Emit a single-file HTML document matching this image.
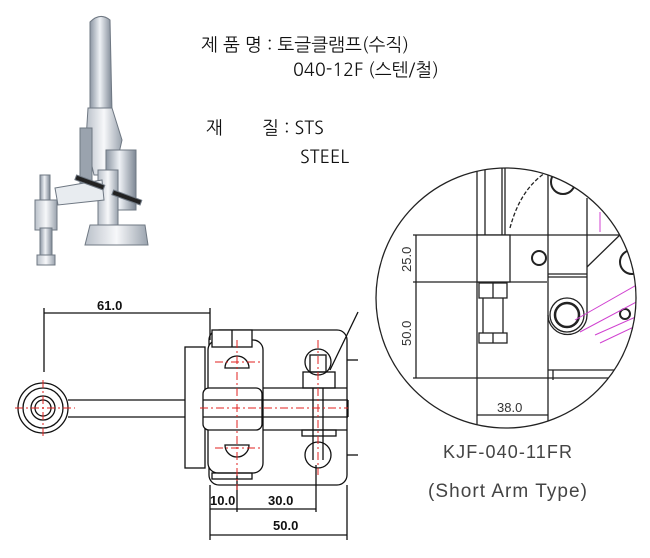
<!DOCTYPE html>
<html><head><meta charset="utf-8"><style>
html,body{margin:0;padding:0;background:#fff;}
body{width:650px;height:558px;position:relative;overflow:hidden;font-family:"Liberation Sans","Noto Sans CJK KR",sans-serif;}
.t{position:absolute;font-size:18px;color:#111;white-space:pre;line-height:1;font-family:"NanumGothic","Liberation Sans","Noto Sans CJK KR",sans-serif;}
</style></head><body>
<svg width="650" height="558" style="position:absolute;left:0;top:0">
<defs>
<linearGradient id="m" x1="0" x2="1"><stop offset="0" stop-color="#8c96a3"/><stop offset=".45" stop-color="#eef1f5"/><stop offset="1" stop-color="#7d8794"/></linearGradient>
<linearGradient id="m2" x1="0" x2="1"><stop offset="0" stop-color="#b9c0c9"/><stop offset=".5" stop-color="#f7f8fa"/><stop offset="1" stop-color="#9aa3ae"/></linearGradient>
<clipPath id="cc"><circle cx="506" cy="298" r="130"/></clipPath>
</defs>
<!-- photo -->
<g stroke="#6f7883" stroke-width="1">
<path d="M90 22 Q100 12 110 20 L112 112 L90 112 Z" fill="url(#m)"/>
<path d="M88 108 L112 108 L122 140 L114 175 L94 175 L86 140 Z" fill="url(#m2)"/>
<rect x="80" y="128" width="12" height="60" fill="#9aa3ae"/>
<rect x="106" y="150" width="30" height="60" fill="url(#m)"/>
<rect x="98" y="170" width="20" height="70" fill="url(#m2)"/>
<path d="M90 225 L145 225 L148 245 L85 245 Z" fill="url(#m2)"/>
<path d="M55 188 L102 180 L104 200 L58 205 Z" fill="#e8ecf0"/>
<rect x="40" y="175" width="10" height="30" fill="url(#m)"/>
<rect x="35" y="200" width="22" height="30" fill="url(#m2)"/>
<rect x="40" y="228" width="12" height="30" fill="url(#m)"/>
<rect x="37" y="255" width="18" height="10" fill="url(#m2)"/>
<rect x="112" y="195" width="30" height="5" fill="#222" transform="rotate(20 127 197)"/>
<rect x="75" y="180" width="30" height="5" fill="#222" transform="rotate(20 90 182)"/>
</g>
<!-- left drawing -->
<g fill="none" stroke="#111" stroke-width="1.3">
<line x1="44" y1="313" x2="210" y2="313"/>
<line x1="44" y1="308" x2="44" y2="372"/>
<line x1="210" y1="308" x2="210" y2="340"/>
<circle cx="43" cy="408" r="25"/><circle cx="43" cy="408" r="20"/><circle cx="43" cy="408" r="12"/><circle cx="43" cy="408" r="8"/>
<line x1="68" y1="400" x2="348" y2="400"/><line x1="68" y1="417" x2="348" y2="417"/><line x1="348" y1="400" x2="348" y2="417"/>
<rect x="185" y="347" width="20" height="121" fill="#fff"/>
<rect x="209" y="330" width="138" height="155" rx="10"/>
<rect x="208" y="340" width="55" height="133" rx="10" fill="#fff"/>
<rect x="212" y="330" width="40" height="17" fill="#fff"/>
<line x1="232" y1="330" x2="232" y2="347"/>
<rect x="203" y="388" width="59" height="42" rx="6" fill="#fff"/>
<line x1="203" y1="400" x2="262" y2="400"/><line x1="203" y1="417" x2="262" y2="417"/>
<line x1="263" y1="388" x2="347" y2="388"/><line x1="263" y1="430" x2="347" y2="430"/>
<path d="M225 368 A12 12 0 0 1 249 368 Z"/>
<path d="M225 445 A12 12 0 0 0 249 445 Z"/>
<rect x="212" y="473" width="40" height="6"/>
<circle cx="318" cy="362" r="13"/><circle cx="318" cy="455" r="13"/>
<rect x="310" y="355" width="16" height="17"/>
<rect x="303" y="372" width="32" height="16"/>
<rect x="302" y="430" width="34" height="6"/>
<line x1="313" y1="388" x2="313" y2="460"/><line x1="323" y1="388" x2="323" y2="460"/>
<line x1="330" y1="370" x2="358" y2="312"/>
<line x1="347" y1="360" x2="358" y2="360"/><line x1="347" y1="455" x2="358" y2="455"/>
<line x1="210" y1="485" x2="210" y2="540"/><line x1="347" y1="485" x2="347" y2="540"/>
<line x1="316" y1="465" x2="316" y2="512"/><line x1="237" y1="475" x2="237" y2="512"/>
<line x1="210" y1="509" x2="316" y2="509"/>
<line x1="210" y1="535" x2="347" y2="535"/>
</g>
<g stroke="#e0201f" stroke-width="1" stroke-dasharray="8 3 2 3" fill="none">
<line x1="15" y1="408" x2="75" y2="408"/><line x1="43" y1="380" x2="43" y2="438"/>
<line x1="200" y1="408" x2="348" y2="408"/>
<line x1="237" y1="340" x2="237" y2="490"/>
<line x1="318" y1="340" x2="318" y2="475"/>
<line x1="215" y1="362" x2="260" y2="362"/><line x1="215" y1="448" x2="260" y2="448"/>
</g>
<g font-family="Liberation Sans,sans-serif" font-weight="bold" font-size="13" fill="#111">
<text x="97" y="310">61.0</text>
<text x="210" y="505">10.0</text>
<text x="268" y="505">30.0</text>
<text x="273" y="530">50.0</text>
</g>
<!-- circle detail -->
<g clip-path="url(#cc)">
<g fill="none" stroke="#222" stroke-width="1.3">
<line x1="477" y1="160" x2="477" y2="235"/><line x1="485" y1="160" x2="485" y2="235"/>
<line x1="502" y1="160" x2="502" y2="235"/><line x1="505" y1="160" x2="505" y2="235"/>
<path d="M510 228 Q520 190 545 173" stroke-dasharray="4 2"/>
<line x1="413" y1="235" x2="640" y2="235"/>
<line x1="413" y1="282" x2="547" y2="282"/>
<line x1="413" y1="378" x2="640" y2="378"/>
<line x1="416" y1="235" x2="416" y2="378"/>
<rect x="477" y="235" width="33" height="47" fill="#fff"/>
<rect x="479" y="283" width="28" height="15"/><line x1="493" y1="283" x2="493" y2="298"/>
<line x1="483" y1="298" x2="483" y2="333"/><line x1="503" y1="298" x2="503" y2="333"/>
<rect x="479" y="333" width="28" height="10"/><line x1="493" y1="333" x2="493" y2="343"/>
<line x1="477" y1="282" x2="477" y2="430"/>
<line x1="548" y1="160" x2="548" y2="430"/>
<line x1="477" y1="415" x2="548" y2="415"/>
<line x1="587" y1="198" x2="587" y2="315"/>
<path d="M548 315 A19 19 0 0 0 587 315"/>
<line x1="548" y1="277" x2="587" y2="277"/><line x1="548" y1="274" x2="587" y2="274"/>
<circle cx="567" cy="315" r="12" stroke-width="2.5"/>
<circle cx="567" cy="315" r="17"/>
<circle cx="539" cy="258" r="7" stroke-width="2"/>
<circle cx="563" cy="182" r="12" stroke-width="2"/>
<circle cx="632" cy="262" r="12" stroke-width="2"/>
<circle cx="625" cy="314" r="5" stroke-width="2"/>
<line x1="587" y1="267" x2="625" y2="230"/>
<line x1="548" y1="370" x2="640" y2="370"/>
<line x1="553" y1="370" x2="553" y2="380"/>
</g>
<g stroke="#d040d0" stroke-width="1" fill="none">
<line x1="575" y1="320" x2="640" y2="283"/><line x1="580" y1="332" x2="640" y2="300"/>
<line x1="595" y1="335" x2="640" y2="315"/><line x1="600" y1="343" x2="640" y2="324"/>
<line x1="600" y1="212" x2="600" y2="232"/>
</g>
</g>
<circle cx="506" cy="298" r="130" fill="none" stroke="#222" stroke-width="1.3"/>
<g font-family="Liberation Sans,sans-serif" font-size="13" fill="#333">
<text transform="translate(411 272) rotate(-90)">25.0</text>
<text transform="translate(411 346) rotate(-90)">50.0</text>
<text x="497" y="412">38.0</text>
</g>
<text x="443" y="458" font-family="Liberation Sans,sans-serif" font-size="18" fill="#444" textLength="129">KJF-040-11FR</text>
<text x="428" y="497" font-family="Liberation Sans,sans-serif" font-size="19" fill="#444" textLength="159">(Short Arm Type)</text>
</svg>
<div class="t" style="left:201px;top:36px">제 품 명 : 토글클램프(수직)</div>
<div class="t" style="left:293px;top:61px">040-12F (스텐/철)</div>
<div class="t" style="left:206px;top:119px">재</div>
<div class="t" style="left:262px;top:119px">질 : STS</div>
<div class="t" style="left:300px;top:148px">STEEL</div>
</body></html>
